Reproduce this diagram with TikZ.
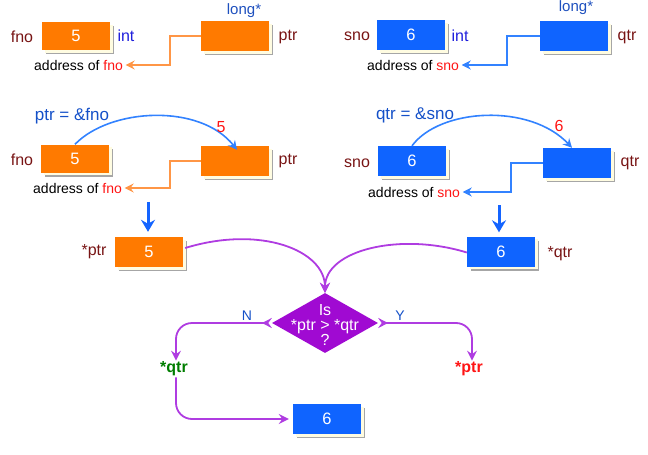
\documentclass[tikz,border=0pt]{standalone}
\usepackage{fontspec}
\setmainfont{Liberation Sans}
\usetikzlibrary{arrows.meta,shapes.geometric,shadows}
\definecolor{orangebox}{RGB}{255,122,0}
\definecolor{bluebox}{RGB}{15,100,255}
\definecolor{darkred}{RGB}{120,20,20}
\definecolor{intblue}{RGB}{30,30,220}
\definecolor{longblue}{RGB}{30,80,190}
\definecolor{eqblue}{RGB}{20,80,200}
\definecolor{redtxt}{RGB}{255,20,20}
\definecolor{oarrowc}{RGB}{255,150,70}
\definecolor{barrowc}{RGB}{50,130,255}
\definecolor{thickbluec}{RGB}{20,100,255}
\definecolor{purpfill}{RGB}{160,10,210}
\definecolor{purpline}{RGB}{175,60,225}
\definecolor{greentxt}{RGB}{0,125,0}
\definecolor{cream}{RGB}{255,252,225}
\begin{document}
\begin{tikzpicture}[x=1pt,y=-1pt,
  box/.style={minimum width=68pt, minimum height=30pt, inner sep=0pt, text=white,
    font=\fontsize{16.5}{18}\selectfont,
    general shadow={shadow xshift=4pt, shadow yshift=-4pt, fill=black!35},
    general shadow={shadow xshift=2.5pt, shadow yshift=-2.5pt, fill=cream}},
  obox/.style={box, fill=orangebox},
  bbox/.style={box, fill=bluebox},
  lbl/.style={text=darkred, font=\fontsize{16}{18}\selectfont, inner sep=0pt},
  intlbl/.style={text=intblue, font=\fontsize{16}{18}\selectfont, inner sep=0pt},
  longlbl/.style={text=longblue, font=\fontsize{15}{17}\selectfont, inner sep=0pt},
  eqlbl/.style={text=eqblue, font=\fontsize{17}{19}\selectfont, inner sep=0pt},
  numlbl/.style={text=redtxt, font=\fontsize{16}{18}\selectfont, inner sep=0pt},
  addr/.style={font=\fontsize{14}{16}\selectfont, inner sep=2.5pt, anchor=west},
  oarrow/.style={draw=oarrowc, line width=2pt, -{Stealth[length=9pt,width=9pt,inset=3pt]}},
  barrow/.style={draw=barrowc, line width=2pt, -{Stealth[length=9pt,width=9pt,inset=3pt]}},
  arcarrow/.style={draw=barrowc, line width=1.6pt, -{Stealth[length=9pt,width=9pt,inset=3pt]}},
  thickarrow/.style={draw=thickbluec, line width=3pt, -{Stealth[length=12pt,width=14pt,inset=4pt]}},
  parrow/.style={draw=purpline, line width=1.8pt, -{Stealth[length=10pt,width=10pt,inset=3.5pt]}},
  pbiarrow/.style={draw=purpline, line width=1.8pt, {Stealth[reversed,length=10pt,width=10pt,inset=3.5pt]}-{Stealth[length=10pt,width=10pt,inset=3.5pt]}},
  yn/.style={text=eqblue, font=\fontsize{14}{16}\selectfont, inner sep=0pt},
  res/.style={font=\bfseries\fontsize{16}{18}\selectfont, inner sep=1pt}
]
\useasboundingbox (0,0) rectangle (648,455);

% ---------- Row 1 left ----------
\node[obox, minimum height=28pt] (fnoA) at (76,36) {5};
\node[obox] (ptrA) at (235,36) {};
\node[lbl] (fnoAl) at (22,37) {fno};
\node[intlbl] (intA) at (126,36) {int};
\node[longlbl] (longA) at (244,11) {long*};
\node[lbl] (ptrAl) at (288,37) {ptr};
\node[addr] (addrA) at (31.5,65) {address of \textcolor{redtxt}{fno}};
\draw[oarrow] (ptrA.west) -- ++(-31,0) |- (addrA.east);

% ---------- Row 1 right ----------
\node[bbox] (snoA) at (411,35) {6};
\node[bbox] (qtrA) at (574,36) {};
\node[lbl] (snoAl) at (357,36) {sno};
\node[intlbl] (intB) at (460,36) {int};
\node[longlbl] (longB) at (576,8) {long*};
\node[lbl] (qtrAl) at (627,37) {qtr};
\node[addr] (addrB) at (364.5,65) {address of \textcolor{redtxt}{sno}};
\draw[barrow] (qtrA.west) -- ++(-33,0) |- (addrB.east);

% ---------- Row 2 left ----------
\node[obox, minimum height=28pt] (fnoB) at (75,158.5) {5};
\node[obox] (ptrB) at (235,161) {};
\node[lbl] (fnoBl) at (22,160) {fno};
\node[lbl] (ptrBl) at (288,161) {ptr};
\node[eqlbl] (eqA) at (72,116) {ptr = \&fno};
\draw[arcarrow] (fnoB.north) .. controls (110,108) and (200,103) .. ([shift={(2,4)}]ptrB.north);
\node[numlbl] (fiveA) at (221,127) {5};
\node[addr] (addrC) at (30.5,188) {address of \textcolor{redtxt}{fno}};
\draw[oarrow] (ptrB.west) -- ++(-31,0) |- (addrC.east);

% ---------- Row 2 right ----------
\node[bbox] (snoB) at (412,161) {6};
\node[bbox] (qtrB) at (577,163) {};
\node[lbl] (snoBl) at (357,163) {sno};
\node[lbl] (qtrBl) at (630,163) {qtr};
\node[eqlbl] (eqB) at (415,115) {qtr = \&sno};
\draw[arcarrow] (snoB.north) .. controls (440,108) and (530,103) .. ([shift={(-5,0)}]qtrB.north);
\node[numlbl] (sixA) at (559,126) {6};
\node[addr] (addrD) at (365.5,192) {address of \textcolor{redtxt}{sno}};
\draw[barrow] (qtrB.west) -- ++(-32,0) |- (addrD.east);

% ---------- Row 3 ----------
\node[obox] (pv) at (149,252) {5};
\node[bbox] (qv) at (501,251.5) {6};
\node[lbl] (pvl) at (94,252) {*ptr};
\node[lbl] (qvl) at (560,254) {*qtr};
\draw[thickarrow] ([shift={(-1,-35)}]pv.north) -- ([shift={(-1,-5)}]pv.north);
\draw[thickarrow] ([shift={(-2,-31)}]qv.north) -- ([shift={(-2,-4)}]qv.north);

% ---------- Decision ----------
\node[diamond, fill=purpfill, minimum width=106pt, minimum height=60pt, inner sep=0pt] (dia) at (325,323) {};
\node[text=white, font=\fontsize{16}{15}\selectfont, align=center, inner sep=0pt] (diat) at (325,325) {Is\\*ptr > *qtr\\?};
\draw[parrow] ([shift={(2,-4)}]pv.east) .. controls (260,225) and (325,250) .. (dia.north);
\draw[parrow] ([yshift=-1pt]qv.west) .. controls (400,232) and (325,250) .. (dia.north);

\node[res, text=greentxt] (nq) at (174,369) {*qtr};
\node[res, text=redtxt] (np) at (469,369) {*ptr};
\node[yn] (nlab) at (247,316) {N};
\node[yn] (ylab) at (400,316) {Y};
\draw[pbiarrow, rounded corners=16pt] (dia.west) -| ([xshift=2pt]nq.north);
\draw[pbiarrow, rounded corners=16pt] (dia.east) -| ([xshift=3pt]np.north);

\node[bbox] (resbox) at (327,419) {6};
\draw[parrow, rounded corners=16pt, shorten >=4pt] ([xshift=2pt]nq.south) |- (resbox.west);
\end{tikzpicture}
\end{document}
